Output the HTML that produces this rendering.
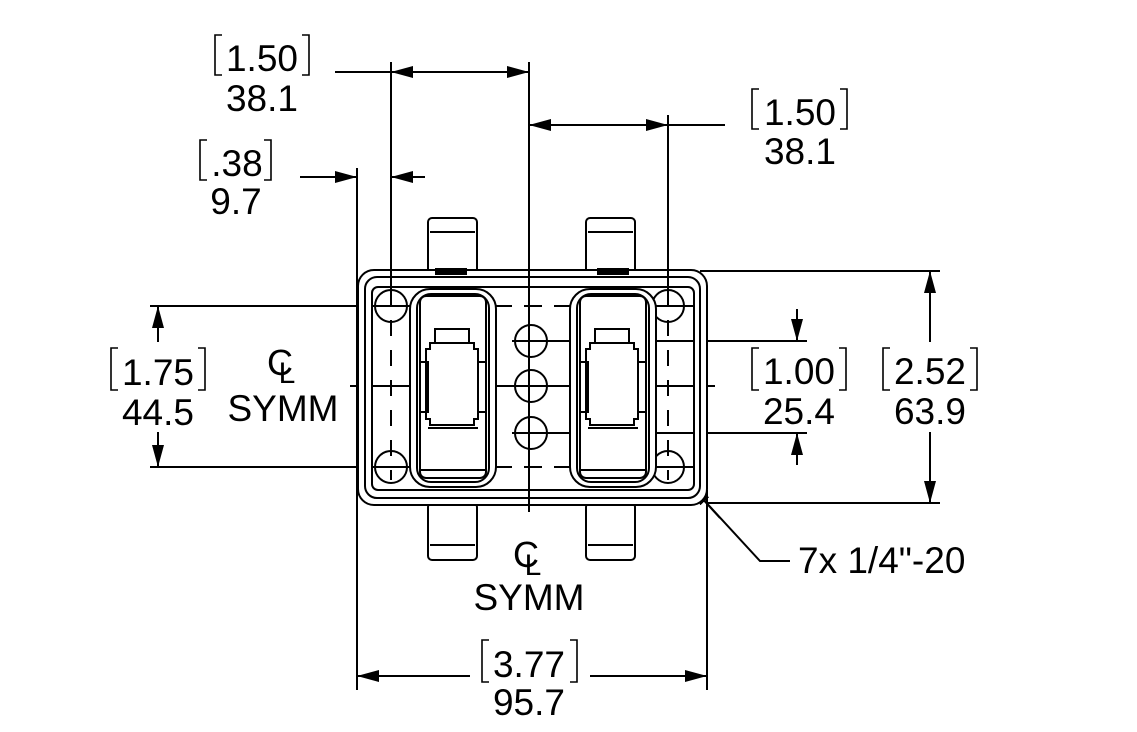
<!DOCTYPE html>
<html><head><meta charset="utf-8"><style>
html,body{margin:0;padding:0;background:#fff}
svg{display:block}
text{font-family:"Liberation Sans",sans-serif;font-size:37px;fill:#000}
</style></head><body>
<svg width="1137" height="732" viewBox="0 0 1137 732" xmlns="http://www.w3.org/2000/svg">
<defs>
<marker id="a" viewBox="0 0 22 12" refX="22" refY="6" markerWidth="22" markerHeight="12" markerUnits="userSpaceOnUse" orient="auto"><path d="M0,0 L22,6 L0,12 Z" fill="#000"/></marker>
</defs>
<g stroke="#000" fill="none" stroke-width="2">
<line x1="357" y1="168" x2="357" y2="690"/>
<line x1="391" y1="62" x2="391" y2="300"/>
<line x1="529" y1="62" x2="529" y2="512"/>
<line x1="668" y1="115" x2="668" y2="300"/>
<line x1="707" y1="490" x2="707" y2="690"/>
<line x1="150" y1="306" x2="372" y2="306"/>
<line x1="150" y1="467" x2="372" y2="467"/>
<line x1="350" y1="386" x2="372" y2="386"/>
<line x1="694" y1="386" x2="715" y2="386"/>
<line x1="694" y1="341" x2="807" y2="341"/>
<line x1="694" y1="433" x2="807" y2="433"/>
<line x1="700" y1="271" x2="940" y2="271"/>
<line x1="707" y1="503" x2="940" y2="503"/>
<line x1="335" y1="72" x2="391" y2="72"/>
<line x1="460" y1="72" x2="391" y2="72" marker-end="url(#a)"/>
<line x1="460" y1="72" x2="529" y2="72" marker-end="url(#a)"/>
<line x1="600" y1="125" x2="529" y2="125" marker-end="url(#a)"/>
<line x1="600" y1="125" x2="668" y2="125" marker-end="url(#a)"/>
<line x1="668" y1="125" x2="725" y2="125"/>
<line x1="300" y1="177" x2="357" y2="177" marker-end="url(#a)"/>
<line x1="425" y1="177" x2="391" y2="177" marker-end="url(#a)"/>
<line x1="158" y1="342" x2="158" y2="306" marker-end="url(#a)"/>
<line x1="158" y1="432" x2="158" y2="467" marker-end="url(#a)"/>
<line x1="797" y1="309" x2="797" y2="341" marker-end="url(#a)"/>
<line x1="797" y1="465" x2="797" y2="433" marker-end="url(#a)"/>
<line x1="930" y1="342" x2="930" y2="271" marker-end="url(#a)"/>
<line x1="930" y1="432" x2="930" y2="503" marker-end="url(#a)"/>
<line x1="470" y1="676" x2="357" y2="676" marker-end="url(#a)"/>
<line x1="590" y1="676" x2="707" y2="676" marker-end="url(#a)"/>
<polyline points="790,561 760,561 690,485"/>
<line x1="720" y1="518" x2="690" y2="485" marker-end="url(#a)"/>
<rect x="428" y="218" width="49" height="55" rx="4"/>
<line x1="430" y1="232" x2="475" y2="232"/>
<rect x="586" y="218" width="49" height="55" rx="4"/>
<line x1="588" y1="232" x2="633" y2="232"/>
<rect x="428" y="503" width="49" height="57" rx="4"/>
<line x1="430" y1="545" x2="475" y2="545"/>
<rect x="586" y="503" width="49" height="57" rx="4"/>
<line x1="588" y1="545" x2="633" y2="545"/>
<rect x="358" y="270" width="349" height="235" rx="16" fill="#fff"/>
<rect x="365" y="277" width="335" height="221" rx="12"/>
<line x1="378" y1="287" x2="687" y2="287"/>
<rect x="372" y="287" width="322" height="203" rx="6"/>
<rect x="436" y="269" width="30" height="5" fill="#000"/>
<rect x="598" y="269" width="30" height="5" fill="#000"/>
<line x1="391" y1="270" x2="391" y2="290"/>
<line x1="668" y1="270" x2="668" y2="290"/>
<line x1="391" y1="290" x2="391" y2="480" stroke-dasharray="16,14"/>
<line x1="668" y1="290" x2="668" y2="480" stroke-dasharray="16,14"/>
<line x1="372" y1="306" x2="412" y2="306"/><line x1="652" y1="306" x2="694" y2="306"/>
<line x1="372" y1="467" x2="412" y2="467"/><line x1="652" y1="467" x2="694" y2="467"/>
<line x1="494" y1="306" x2="570" y2="306" stroke-dasharray="18,12"/>
<line x1="494" y1="467" x2="570" y2="467" stroke-dasharray="18,12"/>
<line x1="372" y1="386" x2="694" y2="386"/>
<line x1="512" y1="341" x2="694" y2="341"/>
<line x1="512" y1="433" x2="694" y2="433"/>
<circle cx="391" cy="306" r="16"/><circle cx="668" cy="306" r="16"/>
<circle cx="391" cy="467" r="16"/><circle cx="668" cy="467" r="16"/>
<circle cx="531" cy="341" r="16"/><circle cx="531" cy="386" r="16"/><circle cx="531" cy="433" r="16"/>
<g id="slot">
<rect x="410" y="289" width="86" height="198" rx="20" fill="#fff"/>
<rect x="417" y="294" width="72" height="188" rx="14"/>
<rect x="420" y="296" width="66" height="182" rx="6"/>
<rect x="435" y="329" width="34" height="14"/>
<path d="M430 343 h44 v6 h4 v70 h-4 v6 h-44 v-6 h-4 v-70 h4 z"/>
<rect x="420" y="362" width="8" height="50"/>
<rect x="478" y="362" width="8" height="50"/>
<line x1="428" y1="428" x2="478" y2="428"/>
<line x1="420" y1="470" x2="486" y2="470"/>
</g>
<use href="#slot" x="160"/>
<line x1="529" y1="270" x2="529" y2="512"/>
</g>
<g stroke="#000" fill="none" stroke-width="1.6">
<polyline points="222,35 215,35 215,75 222,75"/><polyline points="302,35 309,35 309,75 302,75"/>
<polyline points="759,89 752,89 752,129 759,129"/><polyline points="840,89 847,89 847,129 840,129"/>
<polyline points="207,140 200,140 200,180 207,180"/><polyline points="264,140 271,140 271,180 264,180"/>
<polyline points="118,348 111,348 111,390 118,390"/><polyline points="198,348 205,348 205,390 198,390"/>
<polyline points="759,348 752,348 752,390 759,390"/><polyline points="839,348 846,348 846,390 839,390"/>
<polyline points="890,348 883,348 883,390 890,390"/><polyline points="970,348 977,348 977,390 970,390"/>
<polyline points="489,640 482,640 482,682 489,682"/><polyline points="570,640 577,640 577,682 570,682"/>
</g>
<g text-anchor="middle">
<text x="262" y="71">1.50</text><text x="262" y="111">38.1</text>
<text x="800" y="125">1.50</text><text x="800" y="164">38.1</text>
<text x="237" y="176">.38</text><text x="236" y="214">9.7</text>
<text x="158" y="385">1.75</text><text x="158" y="425">44.5</text>
<text x="799" y="384">1.00</text><text x="799" y="424">25.4</text>
<text x="930" y="384">2.52</text><text x="930" y="424">63.9</text>
<text x="529" y="677">3.77</text><text x="529" y="715">95.7</text>
<text x="283" y="421">SYMM</text><text x="529" y="610">SYMM</text>
<text x="280" y="375" style="font-size:36px">C</text><text x="287" y="383" style="font-size:30px">L</text>
<text x="526" y="567" style="font-size:36px">C</text><text x="533" y="575" style="font-size:30px">L</text>
</g>
<text x="798" y="573">7x 1/4"-20</text>
</svg>
</body></html>
